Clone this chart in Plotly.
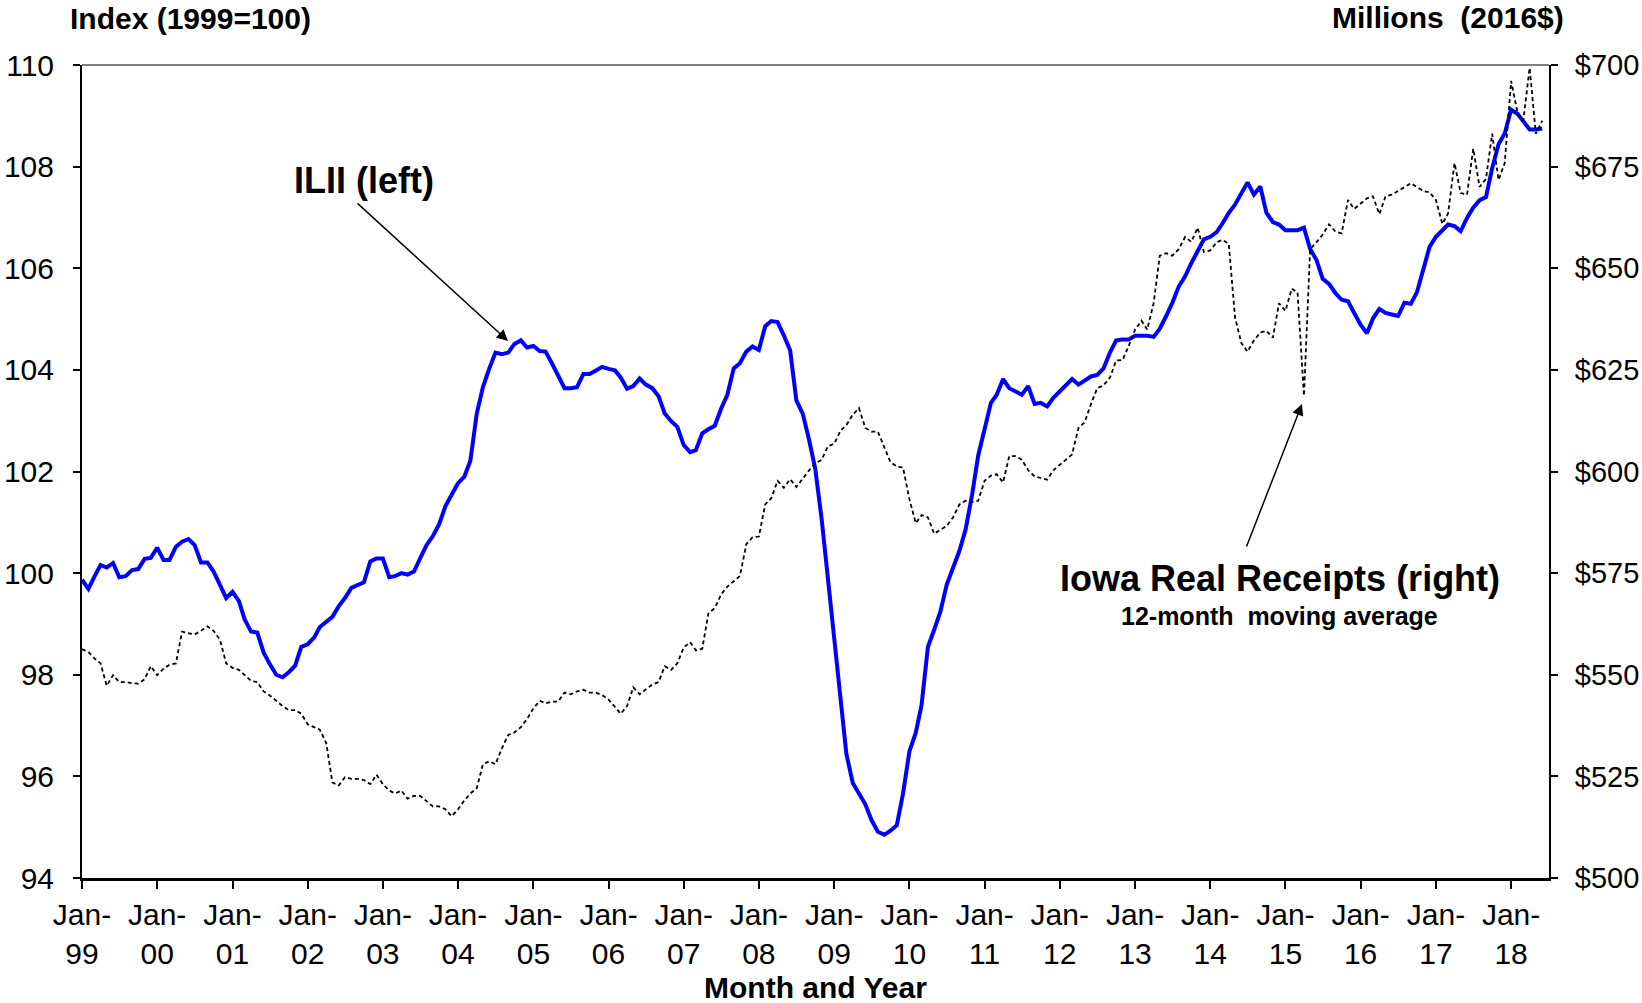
import pandas as pd
import plotly.graph_objects as go

# ---------------- data ----------------
years = list(range(1999, 2019))

# Iowa Leading Indicator Index (left axis), monthly Jan-1999 .. Jun-2018
ilii = [
    99.87, 99.69, 99.92, 100.16, 100.11, 100.20, 99.92, 99.94, 100.06, 100.08, 100.28, 100.30,   # 1999
    100.50, 100.26, 100.26, 100.52, 100.62, 100.67, 100.55, 100.21, 100.21, 100.03, 99.77, 99.51,  # 2000
    99.63, 99.45, 99.09, 98.85, 98.83, 98.44, 98.21, 98.00, 97.95, 98.05, 98.18, 98.55,          # 2001
    98.60, 98.73, 98.94, 99.04, 99.14, 99.35, 99.51, 99.71, 99.77, 99.82, 100.23, 100.29,        # 2002
    100.29, 99.92, 99.94, 100.00, 99.97, 100.03, 100.29, 100.55, 100.73, 100.96, 101.32, 101.53,  # 2003
    101.77, 101.90, 102.21, 103.14, 103.66, 104.03, 104.34, 104.31, 104.34, 104.51, 104.58, 104.44,  # 2004
    104.47, 104.37, 104.36, 104.13, 103.90, 103.64, 103.64, 103.66, 103.92, 103.92, 103.99, 104.06,  # 2005
    104.02, 103.99, 103.85, 103.63, 103.68, 103.83, 103.71, 103.64, 103.48, 103.14, 102.99, 102.88,  # 2006
    102.52, 102.38, 102.42, 102.75, 102.83, 102.90, 103.23, 103.51, 104.03, 104.13, 104.36, 104.46,  # 2007
    104.39, 104.86, 104.96, 104.94, 104.68, 104.38, 103.40, 103.14, 102.62, 102.05, 101.06, 99.92,   # 2008
    98.78, 97.43, 96.44, 95.87, 95.66, 95.45, 95.14, 94.91, 94.85, 94.93, 95.04, 95.66,           # 2009
    96.49, 96.86, 97.40, 98.55, 98.88, 99.25, 99.77, 100.08, 100.44, 100.86, 101.53, 102.31,      # 2010
    102.83, 103.35, 103.51, 103.82, 103.64, 103.58, 103.51, 103.68, 103.33, 103.35, 103.28, 103.45,  # 2011
    103.58, 103.71, 103.82, 103.71, 103.79, 103.87, 103.90, 104.03, 104.34, 104.58, 104.60, 104.60,  # 2012
    104.67, 104.68, 104.67, 104.65, 104.81, 105.06, 105.32, 105.64, 105.84, 106.10, 106.36, 106.57,  # 2013
    106.62, 106.71, 106.88, 107.09, 107.25, 107.49, 107.69, 107.45, 107.61, 107.09, 106.91, 106.86,  # 2014
    106.75, 106.75, 106.75, 106.80, 106.38, 106.16, 105.79, 105.69, 105.51, 105.38, 105.35, 105.12,  # 2015
    104.89, 104.72, 105.01, 105.20, 105.12, 105.09, 105.06, 105.32, 105.30, 105.53, 105.95, 106.42,  # 2016
    106.62, 106.76, 106.86, 106.83, 106.73, 106.99, 107.19, 107.34, 107.40, 107.97, 108.44, 108.65,  # 2017
    109.12, 109.04, 108.88, 108.73, 108.73, 108.75,                                              # 2018
]

# Iowa real receipts, 12-month moving average, millions of 2016 dollars (right axis)
receipts = [
    556.3, 555.6, 554.1, 552.8, 547.3, 549.9, 548.2, 548.2, 547.9, 547.8, 548.9, 552.1,   # 1999
    549.9, 551.5, 552.5, 552.8, 560.6, 560.2, 559.9, 560.8, 561.9, 560.8, 558.6, 552.8,   # 2000
    551.7, 551.2, 549.9, 548.5, 548.2, 545.9, 544.9, 543.6, 542.3, 541.3, 541.3, 540.4,   # 2001
    537.8, 537.1, 536.5, 533.2, 523.5, 522.8, 524.8, 524.4, 524.4, 524.1, 523.1, 525.4,   # 2002
    523.1, 521.5, 520.8, 521.5, 519.5, 520.2, 520.2, 518.9, 517.6, 517.6, 516.9, 515.2,   # 2003
    516.9, 519.1, 520.8, 522.1, 528.0, 528.7, 528.0, 531.9, 535.2, 535.8, 537.1, 539.1,   # 2004
    541.7, 543.6, 543.0, 543.4, 543.4, 545.6, 545.2, 545.9, 546.3, 545.6, 545.6, 545.0,   # 2005
    543.9, 542.1, 540.4, 542.3, 546.9, 545.2, 546.3, 547.6, 548.2, 552.1, 551.2, 552.8,   # 2006
    556.7, 558.0, 556.0, 556.4, 565.1, 566.4, 569.7, 571.7, 573.0, 574.3, 582.1, 583.8,   # 2007
    584.0, 591.9, 593.4, 597.7, 596.0, 598.1, 596.2, 598.4, 600.3, 602.0, 602.9, 606.2,   # 2008
    606.8, 610.1, 611.4, 614.0, 615.6, 610.7, 609.8, 609.8, 606.2, 602.3, 601.2, 601.0,   # 2009
    593.2, 587.3, 589.3, 588.7, 584.7, 585.6, 586.6, 588.7, 591.9, 592.8, 592.5, 592.8,   # 2010
    597.7, 599.0, 599.3, 597.3, 603.8, 603.8, 602.9, 600.3, 598.8, 598.4, 598.0, 600.3,   # 2011
    601.6, 602.9, 604.2, 610.7, 612.1, 616.6, 620.5, 621.2, 623.1, 627.3, 627.4, 630.9,   # 2012
    634.9, 637.1, 634.9, 641.4, 653.1, 653.7, 653.1, 654.7, 657.7, 656.5, 660.0, 654.0,   # 2013
    654.4, 656.4, 657.0, 656.0, 638.0, 631.6, 629.5, 632.2, 634.2, 634.6, 632.9, 641.4,   # 2014
    639.5, 645.0, 644.0, 618.6, 654.7, 656.4, 658.3, 660.8, 659.0, 658.6, 666.8, 664.6,   # 2015
    665.9, 667.2, 667.7, 663.3, 667.7, 668.1, 669.0, 670.0, 670.9, 670.0, 669.0, 668.7,   # 2016
    666.8, 660.9, 663.5, 675.9, 668.5, 668.1, 679.4, 670.0, 672.0, 683.1, 671.7, 675.9,   # 2017
    696.1, 688.3, 686.3, 699.3, 683.1, 686.3,                                              # 2018
]

tick_dates = [f"{y}-01-01" for y in years]
tick_text = [f"Jan-<br>{y % 100:02d}" for y in years]
left_ticks = [94, 96, 98, 100, 102, 104, 106, 108, 110]
right_ticks = [500, 525, 550, 575, 600, 625, 650, 675, 700]
right_text = [f"${v}" for v in right_ticks]

dates = pd.date_range("1999-01-01", periods=len(ilii), freq="MS")

FONT = "Liberation Sans, Arial, Helvetica, sans-serif"

fig = go.Figure()
fig.add_trace(go.Scatter(
    x=dates, y=ilii, mode="lines", name="ILII",
    line=dict(color="#0000FF", width=4), yaxis="y",
))
fig.add_trace(go.Scatter(
    x=dates, y=receipts, mode="lines", name="Receipts",
    line=dict(color="#000000", width=1.8, dash="4px,3px"), yaxis="y2",
))

fig.update_layout(
    width=1642, height=1003,
    margin=dict(l=82, r=93, t=65, b=125, autoexpand=False),
    paper_bgcolor="white", plot_bgcolor="white",
    showlegend=False,
    font=dict(family=FONT, size=30, color="black"),
    xaxis=dict(
        range=["1999-01-01", "2018-07-04"], automargin=False,
        tickmode="array", tickvals=tick_dates, ticktext=tick_text,
        showgrid=False, zeroline=False,
        showline=True, linecolor="black", linewidth=2.5,
        ticks="outside", ticklen=8, tickwidth=1.5, tickcolor="black",
        tickfont=dict(size=30), ticklabelstandoff=0,
    ),
    yaxis=dict(
        range=[94, 110], tickmode="array", tickvals=left_ticks, automargin=False,
        showgrid=False, zeroline=False,
        showline=True, linecolor="black", linewidth=2,
        ticks="outside", ticklen=7, tickwidth=1.5, tickcolor="black",
        tickfont=dict(size=30), ticklabelstandoff=13,
    ),
    yaxis2=dict(
        range=[500, 700], overlaying="y", side="right", automargin=False,
        tickmode="array", tickvals=right_ticks, ticktext=right_text,
        showgrid=False, zeroline=False,
        showline=True, linecolor="black", linewidth=2,
        ticks="outside", ticklen=7, tickwidth=1.5, tickcolor="black",
        tickfont=dict(size=29), ticklabelstandoff=11,
    ),
    shapes=[dict(type="line", xref="paper", yref="paper", x0=0, x1=1, y0=1, y1=1,
                 line=dict(color="#808080", width=2))],
)

bold = dict(family=FONT, color="black")
annos = [
    dict(text="<b>Index (1999=100)</b>", x=-0.0095, y=1.0578, xanchor="left", yanchor="middle",
         font=dict(size=30, **bold)),
    dict(text="<b>Millions  (2016$)</b>", x=1.0116, y=1.059, xanchor="right", yanchor="middle",
         font=dict(size=30, **bold)),
    dict(text="<b>Month and Year</b>", x=0.4997, y=-0.1353, xanchor="center", yanchor="middle",
         font=dict(size=30, **bold)),
    dict(text="<b>ILII (left)</b>", x=0.1922, y=0.8585, xanchor="center", yanchor="middle",
         font=dict(size=36, **bold)),
    dict(text="<b>Iowa Real Receipts (right)</b>", x=0.8166, y=0.3678, xanchor="center", yanchor="middle",
         font=dict(size=36, **bold)),
    dict(text="<b>12-month  moving average</b>", x=0.816, y=0.3223, xanchor="center", yanchor="middle",
         font=dict(size=25, **bold)),
]
for a in annos:
    fig.add_annotation(xref="paper", yref="paper", showarrow=False, **a)

# arrows
fig.add_annotation(xref="paper", yref="paper", x=0.2904, y=0.6605, ax=-152, ay=-139,
                   text="", showarrow=True, arrowhead=2, arrowsize=1.5, arrowwidth=1.5,
                   arrowcolor="black", standoff=0)
fig.add_annotation(xref="paper", yref="paper", x=0.8316, y=0.5830, ax=-56, ay=144,
                   text="", showarrow=True, arrowhead=2, arrowsize=1.5, arrowwidth=1.5,
                   arrowcolor="black", standoff=0)

fig.write_html("out.html", config={"displayModeBar": False},
               post_script="document.body.style.margin='0';")
